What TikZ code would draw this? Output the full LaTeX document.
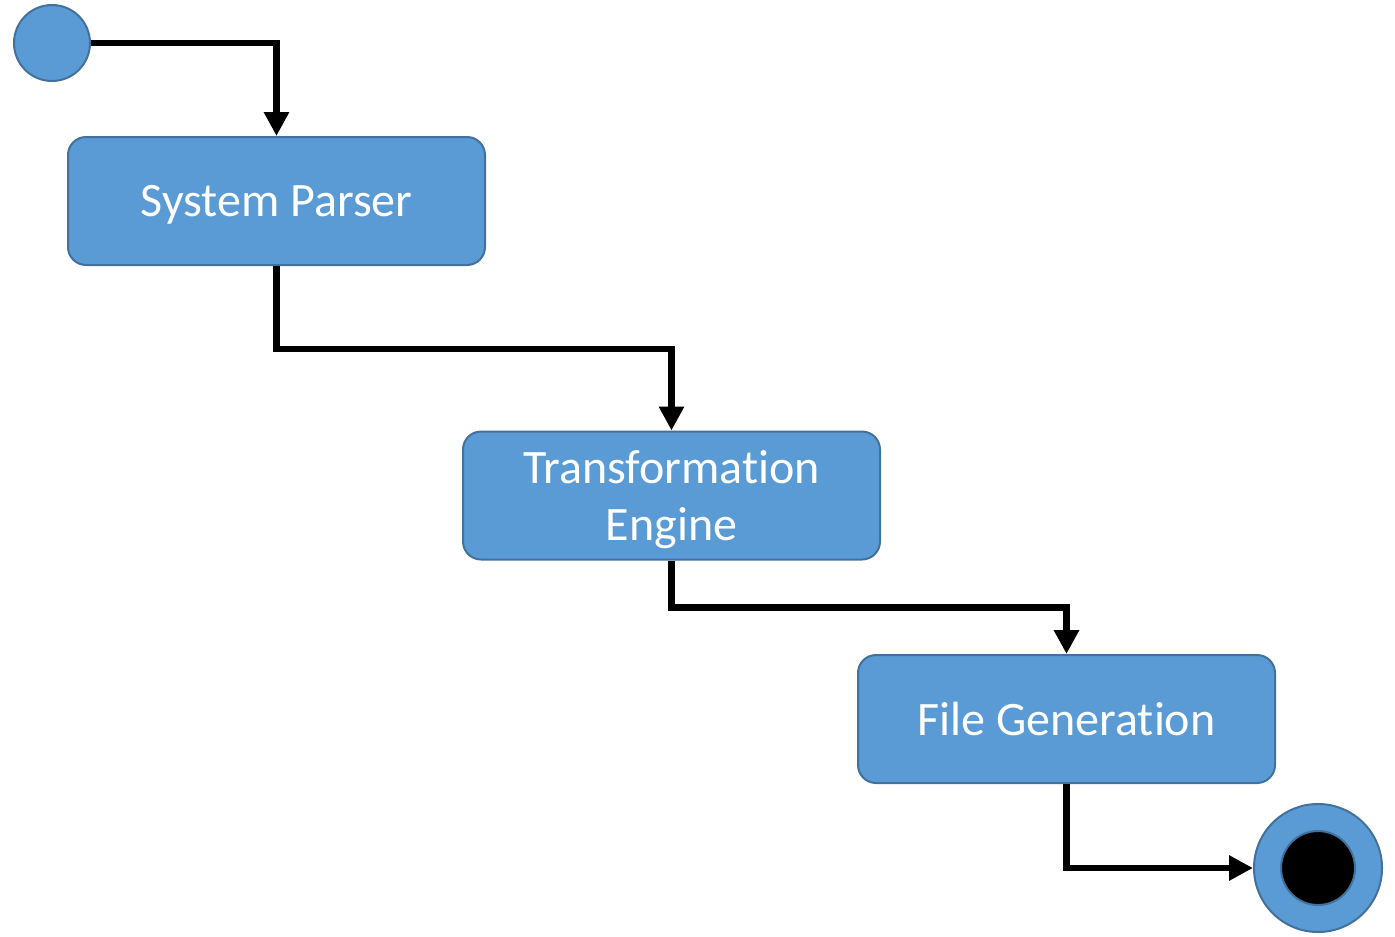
\documentclass[tikz,border=0pt]{standalone}
\usepackage{fontspec}
\setmainfont{Carlito}[Ligatures=NoCommon]
\usetikzlibrary{arrows.meta,positioning}
\definecolor{boxfill}{HTML}{5B9BD5}
\definecolor{boxline}{HTML}{41719C}

\begin{document}
\begin{tikzpicture}[x=0.75pt,y=0.75pt,yscale=-1,xscale=1,
    stage/.style={draw=boxline,fill=boxfill,line width=1.5pt,rounded corners=13.5pt,
        minimum width=312.75pt,minimum height=96pt,inner sep=0pt,align=center,
        text depth=0pt,text=white,font=\fontsize{36}{43}\selectfont},
    dot/.style={circle,draw=boxline,fill=boxfill,line width=1.5pt,inner sep=0pt},
    flow/.style={line width=5pt,-{Triangle[length=18pt,width=18pt]}}]
    \useasboundingbox (0,0) rectangle (1395,936);
    % Initial node
    \node[dot,minimum size=57pt] (start) at (52,43) {};
    % Activities
    \node[stage] (parser) at (276.5,201) {System Parser};
    \node[stage] (engine) at (671.5,495.5) {Transformation\\Engine};
    \node[stage] (gen) at (1066.5,719) {File Generation};
    % Final node
    \node[dot,minimum size=96pt] (stop) at (1318,868) {};
    \node[circle,draw=boxline,fill=black,line width=1.5pt,inner sep=0pt,minimum size=55.5pt] (stopin) at (stop) {};
    % Connectors
    \draw[flow] (start.east) -| (parser.north);
    \draw[flow] (parser.south) -- ++(0,83) -| (engine.north);
    \draw[flow] (engine.south) -- ++(0,47) -| (gen.north);
    \draw[flow] (gen.south) |- (stop.west);
\end{tikzpicture}
\end{document}
